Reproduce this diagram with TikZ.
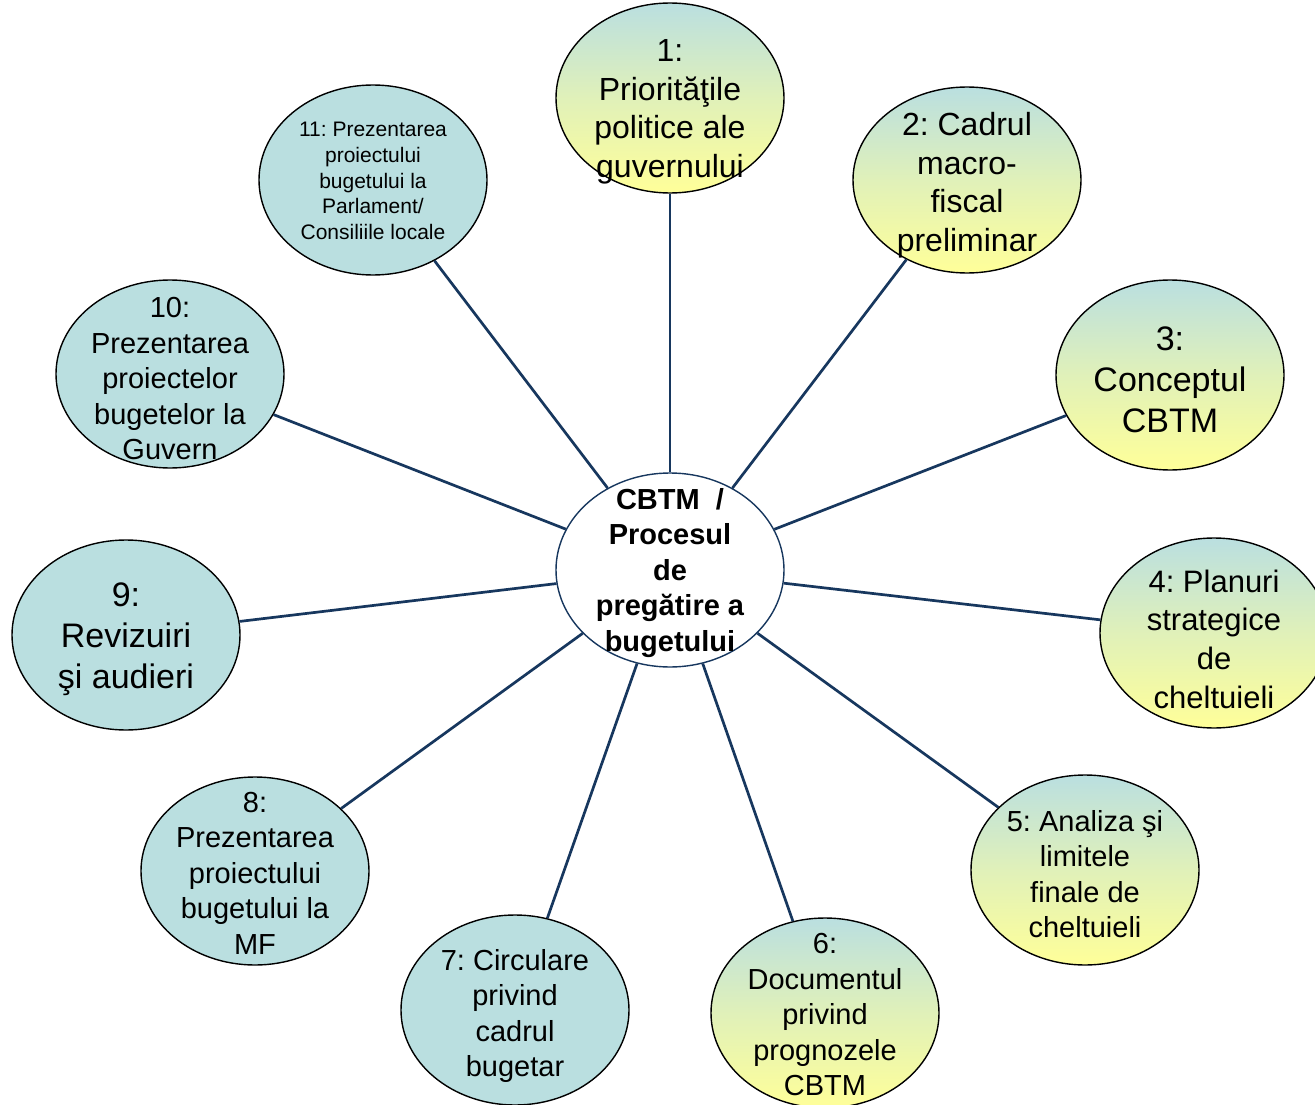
\documentclass[tikz,border=0pt]{standalone}
\usepackage{fontspec}
\setmainfont{Liberation Sans}
\frenchspacing
\usetikzlibrary{shapes.geometric}
\definecolor{teal1}{RGB}{186,223,224}
\definecolor{yel1}{RGB}{255,255,153}
\definecolor{navy}{RGB}{23,55,94}
\tikzset{
  ell/.style={ellipse, draw=black, line width=1.4pt, minimum width=228pt, minimum height=190pt, inner sep=0pt},
  grad/.style={ell, top color=teal1, bottom color=yel1, middle color={teal1!45!yel1}},
  solid/.style={ell, fill=teal1},
  conn/.style={draw=navy, line width=2.7pt},
  txt/.style={align=center, inner sep=0pt, text=black},
  fA/.style={font=\fontsize{32}{38.5}\selectfont},
  fB/.style={font=\fontsize{34}{41}\selectfont},
  fC/.style={font=\fontsize{29}{35.5}\selectfont},
  fD/.style={font=\fontsize{21}{25.6}\selectfont},
}
\begin{document}
\begin{tikzpicture}[x=1pt,y=-1pt]
\useasboundingbox (0,0) rectangle (1315,1105);
\fill[white] (0,0) rectangle (1315,1105);
% ellipses
\node[ell, draw=navy, fill=white, minimum height=194pt] (ec) at (670,570) {};
\node[grad] (e1) at (670,98) {};
\node[grad, minimum height=186pt] (e2) at (967,180) {};
\node[grad] (e3) at (1170,375) {};
\node[grad] (e4) at (1214,633) {};
\node[grad] (e5) at (1085,870) {};
\node[grad] (e6) at (825,1013) {};
\node[solid] (e7) at (515,1010) {};
\node[solid, minimum height=188pt] (e8) at (255,871) {};
\node[solid] (e9) at (126,635) {};
\node[solid, minimum height=188pt] (e10) at (170,374) {};
\node[solid] (e11) at (373,180) {};
% connectors
\foreach \n in {1,...,11} \draw[conn] (ec) -- (e\n);
% texts
\node[txt, fA] (t1) at (670,112) {1:\\Priorităţile\\politice ale\\guvernului};
\node[txt, fA] (t2) at (967,185) {2: Cadrul\\macro-\\fiscal\\preliminar};
\node[txt, fB] (t3) at (1170,380) {3:\\Conceptul\\CBTM};
\node[txt, fA, font=\fontsize{31}{38.7}\selectfont] (t4) at (1214,639) {4: Planuri\\strategice\\de\\cheltuieli};
\node[txt, fC] (t5) at (1085,874) {5: Analiza şi\\limitele\\finale de\\cheltuieli};
\node[txt, fC] (t6) at (825,1015) {6:\\Documentul\\privind\\prognozele\\CBTM};
\node[txt, fC] (t7) at (515,1016) {7: Circulare\\privind\\cadrul\\bugetar};
\node[txt, fC] (t8) at (255,873) {8:\\Prezentarea\\proiectului\\bugetului la\\MF};
\node[txt, fB] (t9) at (126,639) {9:\\Revizuiri\\şi audieri};
\node[txt, fC] (t10) at (170,379) {10:\\Prezentarea\\proiectelor\\bugetelor la\\Guvern};
\node[txt, fD] (t11) at (373,181) {11: Prezentarea\\proiectului\\bugetului la\\Parlament/\\Consiliile locale};
\node[txt, fC, font=\fontsize{29}{35.5}\selectfont\bfseries] (tc) at (670,573) {CBTM~~/\\Procesul\\de\\pregătire a\\bugetului};
\end{tikzpicture}
\end{document}
